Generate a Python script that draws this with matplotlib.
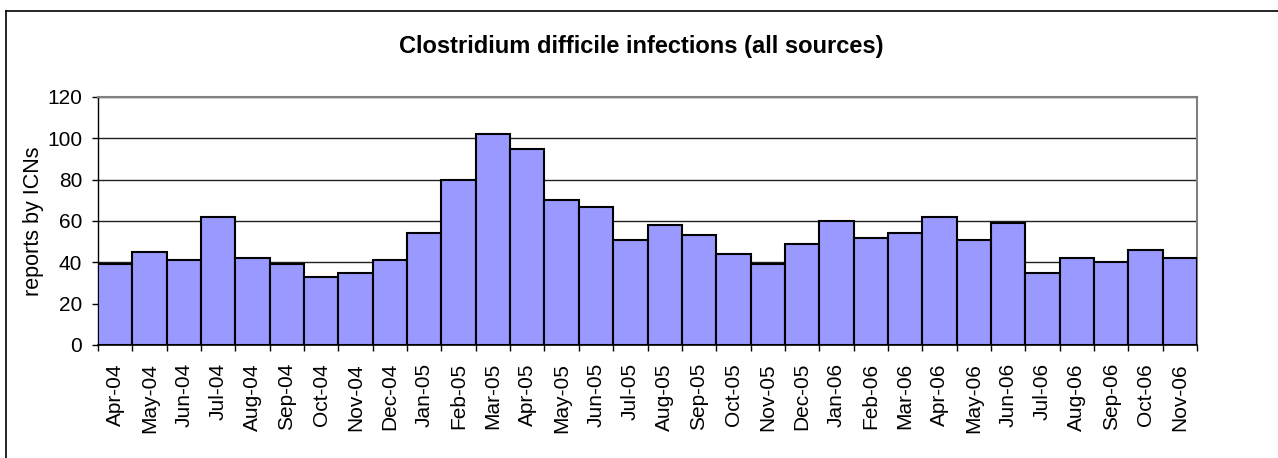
import matplotlib
matplotlib.use("Agg")
import matplotlib.pyplot as plt
from matplotlib.lines import Line2D
import numpy as np

months = ["Apr-04", "May-04", "Jun-04", "Jul-04", "Aug-04", "Sep-04", "Oct-04", "Nov-04",
          "Dec-04", "Jan-05", "Feb-05", "Mar-05", "Apr-05", "May-05", "Jun-05", "Jul-05",
          "Aug-05", "Sep-05", "Oct-05", "Nov-05", "Dec-05", "Jan-06", "Feb-06", "Mar-06",
          "Apr-06", "May-06", "Jun-06", "Jul-06", "Aug-06", "Sep-06", "Oct-06", "Nov-06"]
reports = [39, 45, 41, 62, 42, 39, 33, 35,
           41, 54, 80, 102, 95, 70, 67, 51,
           58, 53, 44, 39, 49, 60, 52, 54,
           62, 51, 59, 35, 42, 40, 46, 42]
yticks = [0, 20, 40, 60, 80, 100, 120]

plt.rcParams['font.family'] = ['Liberation Sans', 'DejaVu Sans']

W, H = 1278, 458
fig = plt.figure(figsize=(W / 100, H / 100), dpi=100)
ax = fig.add_axes([98 / W, (H - 345) / H, (1197 - 98) / W, (345 - 97) / H])

x = np.arange(len(months))
ax.bar(x, reports, width=1.0, color="#9999FF", edgecolor="black", linewidth=1.5, zorder=3)

ax.set_xlim(-0.5, len(months) - 0.5)
ax.set_ylim(0, 120)
ax.set_yticks(yticks)
ax.set_yticklabels([str(v) for v in yticks], fontsize=15)
ax.yaxis.grid(True, color="#202020", linewidth=1.0, zorder=0)
ax.set_axisbelow(True)

ax.set_xticks(x)
ax.set_xticklabels(months, rotation=90, fontsize=15, ha="center", va="top")
ax.set_xticks(np.arange(len(months) + 1) - 0.5, minor=True)
ax.tick_params(axis="x", which="major", length=0, pad=13)
ax.tick_params(axis="x", which="minor", length=4.5, width=1.0, color="black")
ax.tick_params(axis="y", which="major", length=4.5, width=1.0, pad=7)

for s in ("top", "right"):
    ax.spines[s].set_color("#808080")
    ax.spines[s].set_linewidth(1.5)
ax.spines["left"].set_color("black")
ax.spines["bottom"].set_color("black")
ax.spines["left"].set_linewidth(1.0)
ax.spines["bottom"].set_linewidth(1.2)
ax.spines["bottom"].set_zorder(4)

ax.set_ylabel("reports by ICNs", fontsize=15.5)
ax.yaxis.set_label_coords(-54 / (1197 - 98), 0.5)

fig.text(641 / W, 1 - 47 / H, "Clostridium difficile infections (all sources)",
         ha="center", va="center", fontsize=17, fontweight="bold")

# outer chart border (top and left visible)
fig.add_artist(Line2D([5.5 / W, 5.5 / W], [0, 1 - 11 / H], transform=fig.transFigure,
                      color="black", linewidth=1.2))
fig.add_artist(Line2D([5.5 / W, 1], [1 - 11 / H, 1 - 11 / H], transform=fig.transFigure,
                      color="black", linewidth=1.2))

fig.savefig("out.png", dpi=100)
